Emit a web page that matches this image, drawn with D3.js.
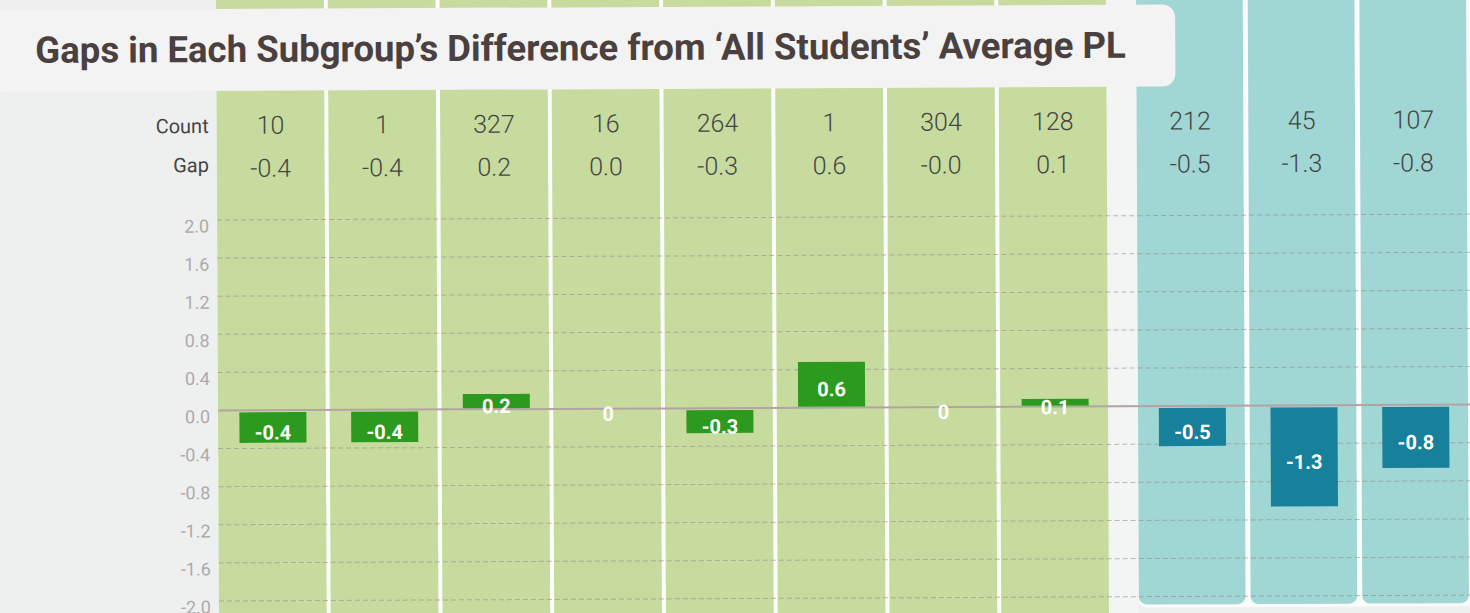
<!DOCTYPE html>
<html>
<head>
<meta charset="utf-8">
<script src="https://cdn.jsdelivr.net/npm/d3@7/dist/d3.min.js"></script>
<style>
  html, body { margin: 0; padding: 0; background: #eef0ef; overflow: hidden; }
  svg { display: block; font-family: Roboto, "Noto Sans", sans-serif; }
</style>
</head>
<body>
<svg id="chart" width="1470" height="613"></svg>
<script>
// ---- data ----
const title = "Gaps in Each Subgroup\u2019s Difference from \u2018All Students\u2019 Average PL";
const categories = ["G1", "G2", "G3", "G4", "G5", "G6", "G7", "G8", "T1", "T2", "T3"];
const groups = ["A", "A", "A", "A", "A", "A", "A", "A", "B", "B", "B"];
const counts = [10, 1, 327, 16, 264, 1, 304, 128, 212, 45, 107];
const gaps = [-0.4, -0.4, 0.2, 0.0, -0.3, 0.6, -0.02, 0.1, -0.5, -1.3, -0.8];
const rowLabels = ["Count", "Gap"];
const yTicks = [2.0, 1.6, 1.2, 0.8, 0.4, 0.0, -0.4, -0.8, -1.2, -1.6, -2.0];

// ---- setup ----
const W = 1470, H = 613;
const svg = d3.select("#chart");
const colors = {
  paper: "#eef0ef", white: "#fbfcfb", colA: "#c6db9d", colB: "#a0d6d3",
  barA: "#2c9a1e", barB: "#17809b", text: "#454545", title: "#4a4040",
  tick: "#ababab", grid: "#8f8f8f", zero: "#b3a4a4"
};

const data = categories.map((c, i) => ({ c, g: groups[i], count: counts[i], gap: gaps[i] }));
const catsA = data.filter(d => d.g === "A").map(d => d.c);
const catsB = data.filter(d => d.g === "B").map(d => d.c);

const xA = d3.scaleBand().domain(catsA).range([218, 1108]).paddingInner(0.036);
const xB = d3.scaleBand().domain(catsB).range([1138, 1468]).paddingInner(0.045);
const xOf = d => (d.g === "A" ? xA : xB);

const y = d3.scaleLinear().domain([-2, 2]).range([601, 220]);
const yBar = d3.scaleLinear().domain([-2.5, 2.5]).range(y.range());

const fmt = d3.formatLocale({ decimal: ".", thousands: ",", grouping: [3], currency: ["", ""], minus: "-" }).format(".1f");

svg.append("rect").attr("width", W).attr("height", H).attr("fill", colors.paper);

const g = svg.append("g").attr("transform", "rotate(-0.27 218 411)");

// white underlays
g.append("rect").attr("x", 218).attr("y", -20).attr("width", 890).attr("height", 660).attr("fill", colors.white);
g.append("rect").attr("x", 1108).attr("y", -20).attr("width", 30).attr("height", 660).attr("fill", "#f3f5f4");
g.append("rect").attr("x", 1138).attr("y", -20).attr("width", 340).attr("height", 632).attr("rx", 8).attr("fill", colors.white);

// columns
g.selectAll("rect.col").data(data).join("rect")
  .attr("class", "col")
  .attr("x", d => xOf(d)(d.c))
  .attr("width", d => xOf(d).bandwidth())
  .attr("y", -20)
  .attr("height", d => d.g === "A" ? 660 : 629)
  .attr("rx", d => d.g === "A" ? 0 : 8)
  .attr("fill", d => d.g === "A" ? colors.colA : colors.colB);

// title box
g.append("rect").attr("x", -40).attr("y", 9).attr("width", 1217).attr("height", 82).attr("rx", 13).attr("fill", "#f2f3f2");
const titleText = g.append("text")
  .attr("x", 37).attr("y", 62)
  .attr("fill", colors.title)
  .attr("font-weight", 700)
  .attr("font-size", 33)
  .text(title);
const tw = titleText.node().getComputedTextLength();
titleText.attr("font-size", 33 * 1091 / tw);

// gridlines
g.selectAll("line.grid").data(yTicks.filter(v => v !== 0)).join("line")
  .attr("class", "grid")
  .attr("x1", 218).attr("x2", 1490)
  .attr("y1", d => y(d)).attr("y2", d => y(d))
  .attr("stroke", colors.grid).attr("stroke-opacity", 0.6)
  .attr("stroke-width", 1).attr("stroke-dasharray", "5,3");
g.append("line")
  .attr("x1", 218).attr("x2", 1490)
  .attr("y1", y(0)).attr("y2", y(0))
  .attr("stroke", colors.zero).attr("stroke-width", 2);

// tick labels
g.selectAll("text.tick").data(yTicks).join("text")
  .attr("class", "tick")
  .attr("x", 210).attr("y", d => y(d) + 6)
  .attr("text-anchor", "end").attr("dominant-baseline", "central")
  .attr("font-size", 18).attr("fill", colors.tick)
  .text(d => fmt(d));

// bars (drawn at the displayed, one-decimal value)
const shown = d => +d.gap.toFixed(1);
const barW = 67;
const barTop = d => shown(d) >= 0 ? yBar(shown(d)) : yBar(0) + 2;
const barBot = d => shown(d) >= 0 ? yBar(0) - 1 : yBar(shown(d)) + 2;
g.selectAll("rect.bar").data(data).join("rect")
  .attr("class", "bar")
  .attr("x", d => xOf(d)(d.c) + xOf(d).bandwidth() / 2 - barW / 2 + 1)
  .attr("width", barW)
  .attr("y", d => barTop(d))
  .attr("height", d => Math.max(0, barBot(d) - barTop(d)))
  .attr("fill", d => d.g === "A" ? colors.barA : colors.barB);

g.selectAll("text.barlab").data(data).join("text")
  .attr("class", "barlab")
  .attr("x", d => xOf(d)(d.c) + xOf(d).bandwidth() / 2 + 1)
  .attr("y", d => (shown(d) === 0 ? yBar(0) : (barTop(d) + barBot(d)) / 2) + 5)
  .attr("text-anchor", "middle").attr("dominant-baseline", "central")
  .attr("font-size", 20).attr("font-weight", 700).attr("fill", "#ffffff")
  .text(d => shown(d) === 0 ? "0" : d.gap.toFixed(1));

// row labels
g.selectAll("text.rowlab").data(rowLabels).join("text")
  .attr("class", "rowlab")
  .attr("x", 210).attr("y", (d, i) => i === 0 ? 133 : 172)
  .attr("text-anchor", "end")
  .attr("font-size", 20).attr("fill", colors.text)
  .text(d => d);

// count & gap values
g.selectAll("text.count").data(data).join("text")
  .attr("class", "count")
  .attr("x", d => xOf(d)(d.c) + xOf(d).bandwidth() / 2)
  .attr("y", 134)
  .attr("text-anchor", "middle")
  .attr("font-size", 25).attr("font-weight", 300).attr("fill", colors.text)
  .text(d => d.count);
g.selectAll("text.gapv").data(data).join("text")
  .attr("class", "gapv")
  .attr("x", d => xOf(d)(d.c) + xOf(d).bandwidth() / 2)
  .attr("y", 177)
  .attr("text-anchor", "middle")
  .attr("font-size", 25).attr("font-weight", 300).attr("fill", colors.text)
  .text(d => d.gap.toFixed(1));
</script>
</body>
</html>
